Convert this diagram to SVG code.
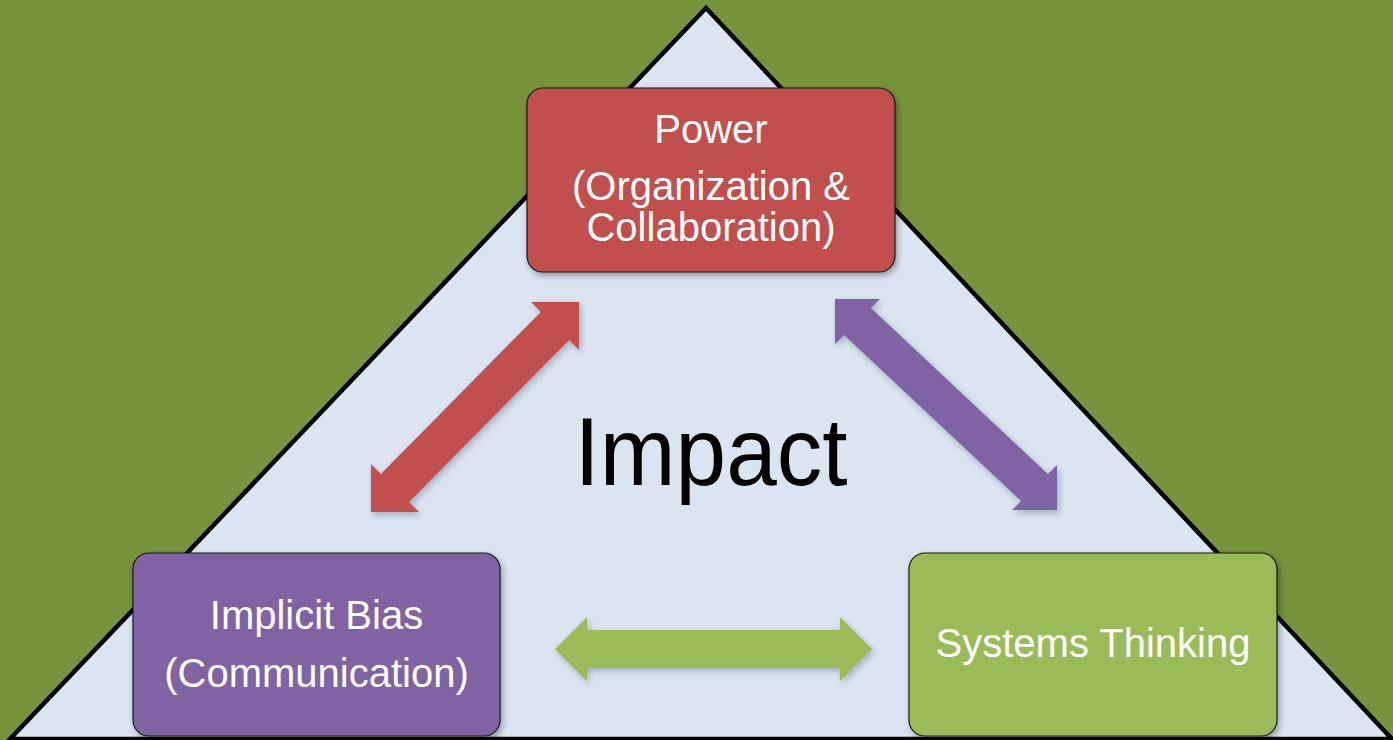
<svg xmlns="http://www.w3.org/2000/svg" width="1393" height="740" viewBox="0 0 1393 740">
<defs>
<style>
.box{stroke:#1a1a1a;stroke-width:1.2;filter:url(#sh)}
.lbl{font-family:"Liberation Sans",Arial,sans-serif;font-size:40px;fill:#ffffff;text-anchor:middle}
.arr{filter:url(#sh2)}
</style>
<filter id="sh" x="-10%" y="-10%" width="130%" height="130%">
<feDropShadow dx="2" dy="3" stdDeviation="3" flood-color="#000" flood-opacity="0.35"/>
</filter>
<filter id="sh2" x="-10%" y="-10%" width="130%" height="130%">
<feDropShadow dx="2" dy="3" stdDeviation="3" flood-color="#1f3050" flood-opacity="0.3"/>
</filter>
</defs>
<rect x="0" y="0" width="1393" height="740" fill="#77933C"/>
<polygon id="triangle" points="706,8 10,739 1392,739" fill="#DBE5F1" stroke="#000" stroke-width="4.5" stroke-linejoin="miter"/>
<text id="impact" x="711" y="485" font-family="'Liberation Sans',Arial,sans-serif" font-size="97" fill="#000" text-anchor="middle" textLength="273" lengthAdjust="spacingAndGlyphs">Impact</text>
<g id="connectors">
<polygon class="arr" fill="#C0504D" points="579,302 579,350 569.1,340.1 409.1,502.1 419,512 371,512 371,464 380.9,473.9 540.9,311.9 531,302"/>
<polygon class="arr" fill="#8064A2" points="835,299 880,299 870.9,308.1 1047.9,474.1 1057,465 1057,510 1012,510 1021.1,500.9 844.1,334.9 835,344"/>
<polygon class="arr" fill="#9BBB59" points="555,649 587,617 587,630 840,630 840,617 872,649 840,681 840,668 587,668 587,681"/>
</g>
<g id="power">
<rect class="box" x="527" y="88" width="368" height="184" rx="16" fill="#C0504D"/>
<text class="lbl" x="711" y="143">Power</text>
<text class="lbl" x="711" y="200">(Organization &amp;</text>
<text class="lbl" x="711" y="241">Collaboration)</text>
</g>
<g id="implicit-bias">
<rect class="box" x="133" y="553" width="367" height="183" rx="16" fill="#8064A2"/>
<text class="lbl" x="316.5" y="629">Implicit Bias</text>
<text class="lbl" x="316.5" y="687">(Communication)</text>
</g>
<g id="systems-thinking">
<rect class="box" x="909" y="553" width="368" height="183" rx="16" fill="#9BBB59"/>
<text class="lbl" x="1093" y="657">Systems Thinking</text>
</g>
</svg>
